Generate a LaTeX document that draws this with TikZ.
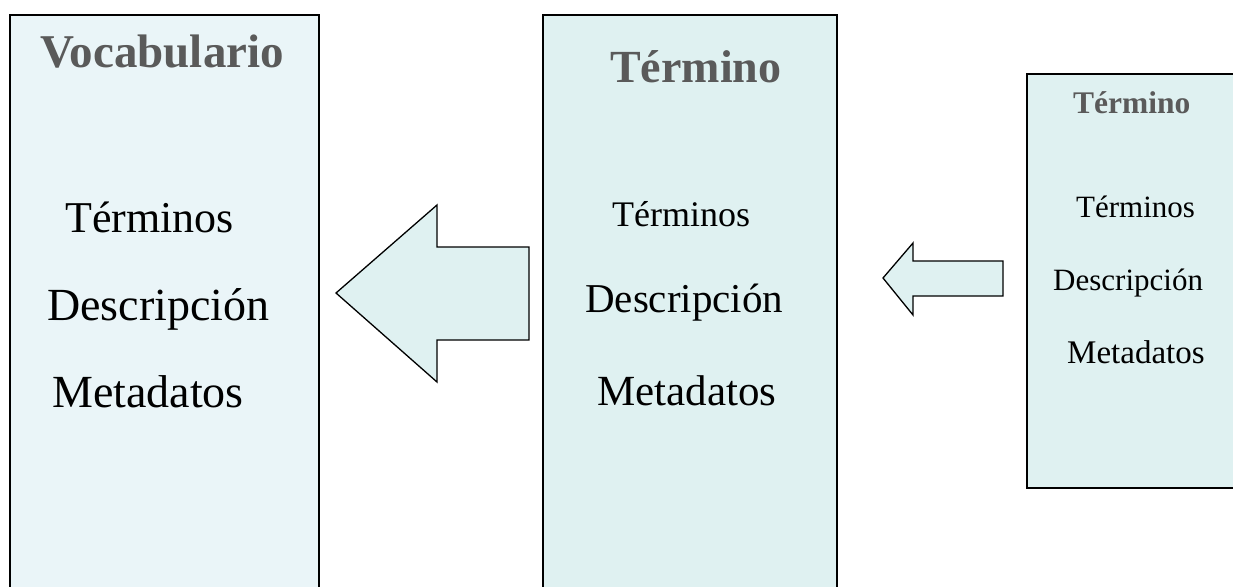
\documentclass[tikz,border=0pt]{standalone}
\usepackage{fontspec}
\setmainfont{Liberation Serif}
\begin{document}
\begin{tikzpicture}[x=1pt,y=-1pt,
  boxA/.style={draw=black,line width=2pt,fill=boxleft},
  boxB/.style={draw=black,line width=2pt,fill=boxmid},
  arrowshape/.style={draw=black,line width=1.3pt,fill=boxmid,line join=miter},
  title/.style={anchor=base west,inner sep=0pt,font=\bfseries,text=titlegray},
  item/.style={anchor=base west,inner sep=0pt,text=black}]
\definecolor{boxleft}{HTML}{EAF5F8}
\definecolor{boxmid}{HTML}{DFF1F1}
\definecolor{titlegray}{HTML}{5A5A5A}
\useasboundingbox (0,0) rectangle (1233,586);
\clip (0,0) rectangle (1233,586);
% boxes
\draw[boxA] (10,15) rectangle (319,600);
\coordinate (vocab) at (164,300);
\draw[boxB] (543,15) rectangle (837,600);
\coordinate (term) at (690,300);
\draw[boxB] (1027,74) rectangle (1245,488);
% arrows
\draw[arrowshape] (529,247) -- (437,247) -- (437,205) -- (336,293) -- (437,382) -- (437,340) -- (529,340) -- cycle;
\draw[arrowshape] (1003,261) -- (913,261) -- (913,243) -- (883,278) -- (913,315) -- (913,296) -- (1003,296) -- cycle;
% left box texts
\node[title,font=\fontsize{47}{50}\selectfont\bfseries] (t1) at (40,67) {Vocabulario};
\node[item,font=\fontsize{44}{48}\selectfont] (a1) at (65,232) {Términos};
\node[item,font=\fontsize{46}{50}\selectfont] (b1) at (47,320) {Descripción};
\node[item,font=\fontsize{46}{50}\selectfont] (c1) at (52,407) {Metadatos};
% middle box texts
\node[title,font=\fontsize{46}{50}\selectfont\bfseries] (t2) at (610,82) {Término};
\node[item,font=\fontsize{36}{40}\selectfont] (a2) at (612,226) {Términos};
\node[item,font=\fontsize{41}{45}\selectfont] (b2) at (585,312) {Descripción};
\node[item,font=\fontsize{43}{47}\selectfont] (c2) at (597,405) {Metadatos};
% right box texts
\node[title,font=\fontsize{31.5}{34}\selectfont\bfseries] (t3) at (1073,113) {Término};
\node[item,font=\fontsize{31}{34}\selectfont] (a3) at (1076,217) {Términos};
\node[item,font=\fontsize{31}{34}\selectfont] (b3) at (1053,290) {Descripción};
\node[item,font=\fontsize{33}{36}\selectfont] (c3) at (1067,363) {Metadatos};
\end{tikzpicture}
\end{document}
